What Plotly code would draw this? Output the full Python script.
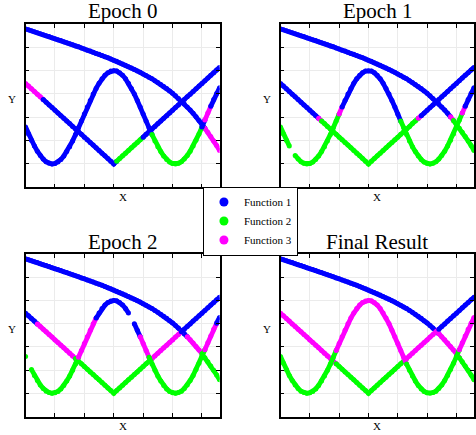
import plotly.graph_objects as go

# ---------------- data ----------------
x_vals = [-3.0, -2.9, -2.8, -2.7, -2.6, -2.5, -2.4, -2.3, -2.2, -2.1,
          -2.0, -1.9, -1.8, -1.7, -1.6, -1.5, -1.4, -1.3, -1.2, -1.1,
          -1.0, -0.9, -0.8, -0.7, -0.6, -0.5, -0.4, -0.3, -0.2, -0.1,
          0.0, 0.1, 0.2, 0.3, 0.4, 0.5, 0.6, 0.7, 0.8, 0.9,
          1.0, 1.1, 1.2, 1.3, 1.4, 1.5, 1.6, 1.7, 1.8, 1.9,
          2.0, 2.1, 2.2, 2.3, 2.4, 2.5, 2.6, 2.7, 2.8, 2.9,
          3.0, 3.1, 3.2, 3.3, 3.4, 3.5, 3.6]

top_curve = [5.79, 5.75, 5.71, 5.67, 5.63, 5.58, 5.54, 5.50, 5.46, 5.41,
             5.37, 5.33, 5.29, 5.24, 5.20, 5.15, 5.11, 5.06, 5.02, 4.97,
             4.93, 4.88, 4.84, 4.79, 4.74, 4.70, 4.65, 4.60, 4.55, 4.50,
             4.45, 4.40, 4.34, 4.29, 4.23, 4.17, 4.11, 4.05, 3.99, 3.93,
             3.86, 3.79, 3.72, 3.65, 3.57, 3.49, 3.41, 3.32, 3.23, 3.13,
             3.03, 2.92, 2.81, 2.69, 2.57, 2.44, 2.31, 2.17, 2.02, 1.86,
             1.70, 1.53, 1.36, 1.18, 0.99, 0.79, 0.58]

v_curve = [3.45, 3.34, 3.22, 3.11, 2.99, 2.88, 2.76, 2.65, 2.53, 2.42,
           2.30, 2.19, 2.07, 1.96, 1.84, 1.73, 1.61, 1.50, 1.38, 1.27,
           1.15, 1.04, 0.92, 0.81, 0.69, 0.58, 0.46, 0.35, 0.23, 0.12,
           0.00, 0.12, 0.23, 0.35, 0.46, 0.58, 0.69, 0.81, 0.92, 1.04,
           1.15, 1.27, 1.38, 1.50, 1.61, 1.73, 1.84, 1.96, 2.07, 2.19,
           2.30, 2.42, 2.53, 2.65, 2.76, 2.88, 2.99, 3.11, 3.22, 3.34,
           3.45, 3.57, 3.68, 3.80, 3.91, 4.03, 4.14]

wave_curve = [1.58, 1.29, 1.02, 0.77, 0.55, 0.36, 0.21, 0.09, 0.03, 0.00,
              0.02, 0.08, 0.19, 0.34, 0.53, 0.74, 0.99, 1.26, 1.55, 1.84,
              2.14, 2.44, 2.72, 3.00, 3.24, 3.46, 3.65, 3.80, 3.91, 3.98,
              4.00, 3.98, 3.91, 3.80, 3.65, 3.46, 3.24, 3.00, 2.72, 2.44,
              2.14, 1.84, 1.55, 1.26, 0.99, 0.74, 0.53, 0.34, 0.19, 0.08,
              0.02, 0.00, 0.03, 0.09, 0.21, 0.36, 0.55, 0.77, 1.02, 1.29,
              1.58, 1.88, 2.18, 2.47, 2.76, 3.02, 3.27]

# cluster assignment runs: (function label, last x of the run); 0 = no point
epoch0_top = [(1, 3.0), (3, 3.6)]
epoch0_v = [(3, -2.5), (1, 0.0), (2, 0.9), (1, 3.6)]
epoch0_wave = [(1, 1.2), (2, 2.9), (1, 3.0), (3, 3.2), (1, 3.6)]

epoch1_top = [(1, 2.7), (3, 2.8), (2, 3.6)]
epoch1_v = [(1, -1.8), (3, -1.7), (2, 1.6), (3, 1.7), (1, 3.6)]
epoch1_wave = [(2, -2.7), (0, -2.6), (2, -1.1), (3, -1.0), (1, 1.0), (2, 3.1), (3, 3.2), (1, 3.6)]

epoch2_top = [(1, 2.4), (3, 2.9), (2, 3.6)]
epoch2_v = [(1, -2.7), (3, -1.4), (2, 1.2), (3, 2.2), (1, 3.6)]
epoch2_wave = [(2, -3.0), (0, -2.9), (2, -1.3), (3, -0.7), (1, 0.5), (0, 0.6), (1, 0.8),
               (3, 1.1), (2, 3.0), (3, 3.4), (1, 3.6)]

final_top = [(1, 2.3), (3, 3.0), (2, 3.6)]
final_v = [(3, -1.2), (2, 1.2), (3, 2.3), (1, 3.6)]
final_wave = [(2, -1.2), (3, 1.2), (2, 3.0), (3, 3.6)]

panel_titles = ["Epoch 0", "Epoch 1", "Epoch 2", "Final Result"]
legend_names = ["Function 1", "Function 2", "Function 3"]

# ---------------- styling ----------------
colors = {1: "#0000FF", 2: "#00FF00", 3: "#FF00FF"}
FONT = "Liberation Serif, Times New Roman, serif"
W, H = 476, 435

# panel boxes in pixels (left, right, top, bottom)
boxes = [(25.7, 220.5, 24.0, 187.3), (281.7, 476.0, 24.0, 187.3),
         (25.7, 220.5, 254.0, 416.5), (281.7, 476.0, 254.0, 416.5)]

panels = [(epoch0_top, epoch0_v, epoch0_wave),
          (epoch1_top, epoch1_v, epoch1_wave),
          (epoch2_top, epoch2_v, epoch2_wave),
          (final_top, final_v, final_wave)]

fig = go.Figure()


def labels_for(runs):
    out = []
    for x in x_vals:
        for lab, xe in runs:
            if x <= xe + 1e-9:
                out.append(lab)
                break
    return out


def add_curve(ys, runs, k):
    labs = labels_for(runs)
    n = len(x_vals)
    axx = "x" if k == 0 else "x%d" % (k + 1)
    axy = "y" if k == 0 else "y%d" % (k + 1)
    i = 0
    while i < n:
        lab = labs[i]
        j = i
        while j + 1 < n and labs[j + 1] == lab:
            j += 1
        if lab != 0:
            end = j + 1 if (j + 1 < n and labs[j + 1] != 0) else j
            fig.add_trace(go.Scatter(
                x=x_vals[i:end + 1], y=ys[i:end + 1], mode="lines+markers",
                line=dict(color=colors[lab], width=4.8),
                marker=dict(color=colors[lab], size=5),
                showlegend=False, hoverinfo="skip", xaxis=axx, yaxis=axy))
        i = j + 1


for k, (rt, rv, rw) in enumerate(panels):
    add_curve(top_curve, rt, k)
    add_curve(v_curve, rv, k)
    add_curve(wave_curve, rw, k)

for lab, name in zip([1, 2, 3], legend_names):
    fig.add_trace(go.Scatter(x=[None], y=[None], mode="markers", name=name,
                             marker=dict(color=colors[lab], size=9)))

axis_common = dict(showticklabels=False, ticks="inside", ticklen=4, tickwidth=1,
                   tickcolor="black", showline=True, linecolor="black", linewidth=1.5,
                   mirror="ticks", showgrid=True, gridcolor="#ebebeb", gridwidth=1,
                   zeroline=False, tick0=0, dtick=1)

annotations = []
for k, (l, r, t, b) in enumerate(boxes):
    sfx = "" if k == 0 else str(k + 1)
    xd = [l / W, r / W]
    yd = [1 - b / H, 1 - t / H]
    fig.layout["xaxis" + sfx] = dict(domain=xd, range=[-3, 3.6], anchor="y" + sfx, **axis_common)
    fig.layout["yaxis" + sfx] = dict(domain=yd, range=[-1, 6], anchor="x" + sfx, **axis_common)
    cx = (l + r) / 2 / W
    annotations.append(dict(text=panel_titles[k], x=cx, y=1 - (t - 12.5) / H, xref="paper", yref="paper",
                            showarrow=False, xanchor="center", yanchor="middle",
                            font=dict(family=FONT, size=21, color="black")))
    annotations.append(dict(text="X", x=cx, y=1 - (b + 9.5) / H, xref="paper", yref="paper",
                            showarrow=False, xanchor="center", yanchor="middle",
                            font=dict(family=FONT, size=11, color="black")))
    annotations.append(dict(text="Y", x=(l - 14) / W, y=1 - ((t + b) / 2 - 6.5) / H, xref="paper",
                            yref="paper", showarrow=False, xanchor="center", yanchor="middle",
                            font=dict(family=FONT, size=11, color="black")))

fig.update_layout(
    width=W, height=H, margin=dict(l=0, r=0, t=0, b=0),
    paper_bgcolor="white", plot_bgcolor="white",
    annotations=annotations,
    showlegend=True,
    legend=dict(x=251.5 / W, y=1 - 221 / H, xanchor="center", yanchor="middle",
                bordercolor="black", borderwidth=1, bgcolor="white",
                font=dict(family=FONT, size=11, color="black")),
    font=dict(family=FONT),
)

fig.write_html("out.html", config={"displayModeBar": False},
               post_script="document.body.style.margin='0';document.body.style.overflow='hidden';")
